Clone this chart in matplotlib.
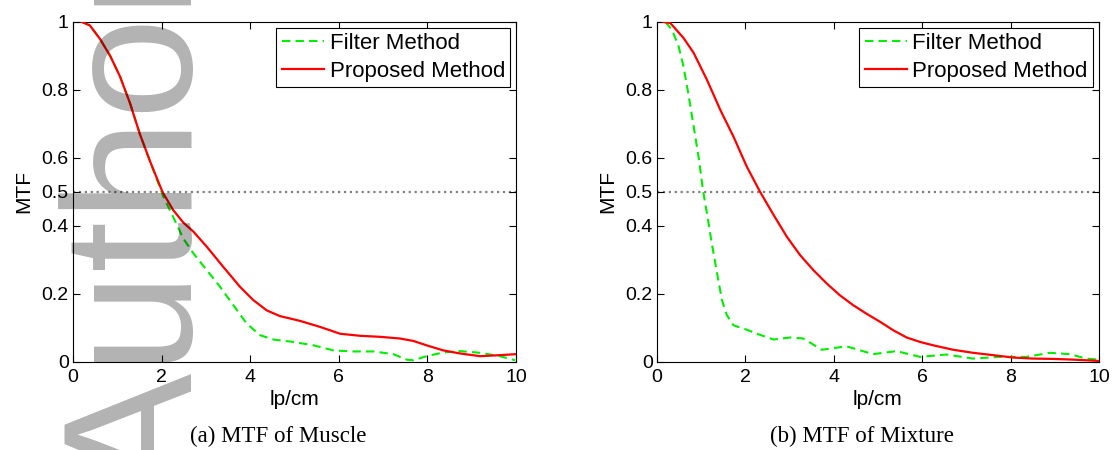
import numpy as np
import matplotlib.pyplot as plt

plt.rcParams['font.family'] = ['Liberation Sans', 'DejaVu Sans']

# MTF curves, muscle phantom (lp/cm vs MTF)
mus_prop_x = [0.2, 0.38, 0.61, 0.84, 1.06, 1.29, 1.51, 1.74, 2.02, 2.26, 2.49, 2.72,
              3.02, 3.39, 3.77, 4.07, 4.37, 4.67, 5.12, 5.58, 6.03, 6.48, 6.93, 7.38,
              7.68, 7.98, 8.36, 8.74, 9.19, 9.49, 10.0]
mus_prop_y = [1.0, 0.99, 0.95, 0.90, 0.84, 0.76, 0.67, 0.59, 0.50, 0.447, 0.41, 0.383,
              0.339, 0.28, 0.221, 0.182, 0.152, 0.135, 0.121, 0.103, 0.083, 0.077, 0.074, 0.069,
              0.062, 0.049, 0.034, 0.025, 0.017, 0.019, 0.023]
mus_filt_x = [0.2, 0.38, 0.61, 0.84, 1.06, 1.29, 1.51, 1.81, 2.04, 2.26, 2.49, 2.72,
              3.02, 3.32, 3.62, 3.92, 4.22, 4.52, 4.97, 5.43, 5.88, 6.33, 6.78, 7.23,
              7.53, 7.68, 7.98, 8.36, 8.74, 9.19, 9.64, 9.98]
mus_filt_y = [1.0, 0.99, 0.95, 0.90, 0.84, 0.76, 0.67, 0.565, 0.486, 0.427, 0.363, 0.319,
              0.27, 0.221, 0.167, 0.113, 0.079, 0.066, 0.059, 0.049, 0.034, 0.031, 0.031, 0.023,
              0.007, 0.005, 0.017, 0.028, 0.032, 0.027, 0.017, 0.005]

# MTF curves, mixture phantom
mix_prop_x = [0.15, 0.3, 0.6, 0.83, 1.13, 1.43, 1.73, 2.03, 2.33, 2.64, 2.94, 3.24,
              3.54, 3.84, 4.14, 4.44, 4.74, 5.05, 5.35, 5.65, 5.95, 6.25, 6.70, 7.15,
              7.61, 8.06, 8.51, 8.96, 9.41, 10.0]
mix_prop_y = [1.0, 0.997, 0.953, 0.909, 0.83, 0.742, 0.663, 0.575, 0.501, 0.432, 0.368, 0.314,
              0.27, 0.231, 0.196, 0.167, 0.142, 0.118, 0.093, 0.072, 0.059, 0.049, 0.036, 0.027,
              0.02, 0.013, 0.01, 0.009, 0.007, 0.003]
mix_filt_x = [0.19, 0.34, 0.49, 0.6, 0.72, 0.83, 0.94, 1.04, 1.13, 1.24, 1.36, 1.47,
              1.58, 1.73, 2.03, 2.26, 2.64, 3.01, 3.31, 3.73, 4.29, 4.89, 5.42, 5.95,
              6.55, 7.15, 7.76, 8.36, 8.89, 9.34, 9.71, 10.0]
mix_filt_y = [1.0, 0.977, 0.928, 0.869, 0.781, 0.692, 0.604, 0.506, 0.437, 0.349, 0.26, 0.182,
              0.138, 0.108, 0.095, 0.083, 0.066, 0.072, 0.069, 0.036, 0.046, 0.023, 0.032, 0.015,
              0.022, 0.01, 0.015, 0.015, 0.027, 0.023, 0.01, 0.007]

yticks = [0, 0.2, 0.4, 0.5, 0.6, 0.8, 1]
ylabels = ['0', '0.2', '0.4', '0.5', '0.6', '0.8', '1']
captions = ['(a) MTF of Muscle', '(b) MTF of Mixture']

fig = plt.figure(figsize=(11.16, 4.5), dpi=100)
ax1 = fig.add_axes([0.0654, 0.1956, 0.397, 0.7556])
ax2 = fig.add_axes([0.5887, 0.1956, 0.396, 0.7556])

panels = [(ax1, mus_filt_x, mus_filt_y, mus_prop_x, mus_prop_y),
          (ax2, mix_filt_x, mix_filt_y, mix_prop_x, mix_prop_y)]

for ax, fx, fy, px, py in panels:
    ax.axhline(0.5, color='#808080', ls=':', lw=1.6, zorder=1)
    ax.plot(fx, fy, color='#00ee00', ls=(0, (4, 2.5)), lw=1.5, label='Filter Method', zorder=2)
    ax.plot(px, py, color='red', lw=1.6, label='Proposed Method', zorder=3)
    ax.set_xlim(0, 10)
    ax.set_ylim(0, 1)
    ax.set_xticks(np.arange(0, 11, 2))
    ax.set_yticks(yticks)
    ax.set_yticklabels(ylabels)
    ax.tick_params(direction='in', top=True, right=True, length=5, width=0.8,
                   labelsize=14)
    ax.tick_params(axis='x', pad=5)
    ax.tick_params(axis='y', pad=3)
    ax.set_xlabel('lp/cm', fontsize=15, labelpad=3)
    ax.set_ylabel('MTF', fontsize=15, labelpad=6)
    for s in ax.spines.values():
        s.set_linewidth(0.8)
    leg = ax.legend(loc='upper right', fontsize=16, fancybox=False, framealpha=1,
                    edgecolor='black', handlelength=1.9, handletextpad=0.25,
                    borderpad=0.25, labelspacing=0.3, borderaxespad=0.25)
    leg.get_frame().set_linewidth(0.8)

fig.text(278 / 1116, 0.029, captions[0], ha='center', va='center',
         family='Liberation Serif', fontsize=16.5)
fig.text(862 / 1116, 0.029, captions[1], ha='center', va='center',
         family='Liberation Serif', fontsize=16.5)

# grey watermark running up the left edge
fig.text(192 / 1116, -0.1, 'Author', rotation=90, rotation_mode='anchor',
         ha='left', va='baseline', fontsize=132, color='black', alpha=0.3,
         family='Liberation Sans', zorder=10)

fig.savefig('out.png', dpi=100)
